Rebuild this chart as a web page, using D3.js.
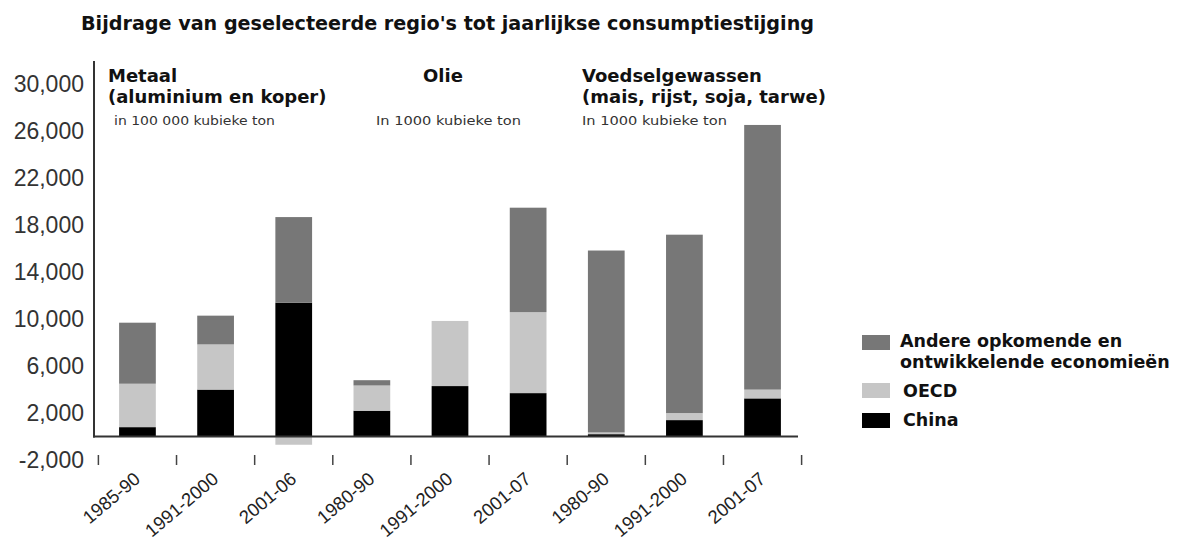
<!DOCTYPE html>
<html>
<head>
<meta charset="utf-8">
<script src="https://cdn.jsdelivr.net/npm/d3@7"></script>
<style>
  body { margin: 0; background: #fff; }
  svg { display: block; }
</style>
</head>
<body>
<div id="chart"></div>
<script>
// categories (labels repeat per panel, so bars are keyed by index)
const labels = ["1985-90", "1991-2000", "2001-06", "1980-90", "1991-2000", "2001-07", "1980-90", "1991-2000", "2001-07"];

// series values
const china = [800, 4000, 11400, 2200, 4300, 3700, 200, 1400, 3250];
const oecd  = [3700, 3850, -700, 2150, 5550, 6900, 150, 600, 750];
const other = [5200, 2450, 7300, 450, 0, 8900, 15500, 15200, 22550];

const yTicks = [-2000, 2000, 6000, 10000, 14000, 18000, 22000, 26000, 30000];

const seriesKeys = ["China", "OECD", "Andere"];
const legendLabels = [["Andere opkomende en", "ontwikkelende economieën"], ["OECD"], ["China"]];
const colors = { "China": "#000000", "OECD": "#c6c6c6", "Andere": "#777777" };

const panels = [
  { title: ["Metaal", "(aluminium en koper)"], unit: "in 100 000 kubieke ton" },
  { title: ["Olie"], unit: "In 1000 kubieke ton" },
  { title: ["Voedselgewassen", "(mais, rijst, soja, tarwe)"], unit: "In 1000 kubieke ton" }
];

const width = 1189, height = 544;

const table = labels.map((l, i) => ({ idx: i, China: china[i], OECD: oecd[i], Andere: other[i] }));

const svg = d3.select("#chart").append("svg")
  .attr("width", width)
  .attr("height", height);

const x = d3.scaleBand()
  .domain(table.map(d => d.idx))
  .range([98, 802])
  .paddingInner(0.53)
  .paddingOuter(0.27);

const y = d3.scaleLinear()
  .domain([-2000, 32000])
  .range([460, 61]);

// title
svg.append("text")
  .attr("x", 81).attr("y", 30)
  .attr("textLength", 733)
  .attr("lengthAdjust", "spacingAndGlyphs")
  .style("font-family", "DejaVu Sans")
  .style("font-weight", "bold")
  .style("font-size", "20px")
  .style("fill", "#111")
  .text("Bijdrage van geselecteerde regio's tot jaarlijkse consumptiestijging");

// stacked bars
const stack = d3.stack().keys(seriesKeys).offset(d3.stackOffsetDiverging);
const layers = stack(table);

svg.append("g").selectAll("g")
  .data(layers)
  .join("g")
  .attr("fill", d => colors[d.key])
  .selectAll("rect")
  .data(d => d)
  .join("rect")
  .attr("x", d => x(d.data.idx))
  .attr("y", d => y(Math.max(d[0], d[1])))
  .attr("width", x.bandwidth())
  .attr("height", d => Math.abs(y(d[0]) - y(d[1])));

// y axis
const fmt = d3.format(",");
const yAxis = svg.append("g")
  .attr("transform", "translate(94,0)")
  .call(d3.axisLeft(y).tickValues(yTicks).tickSize(0).tickPadding(10)
    .tickFormat(d => fmt(d).replace("\u2212", "-")));
yAxis.select(".domain").remove();
yAxis.selectAll("text")
  .style("font-family", "Liberation Sans")
  .style("font-size", "23px")
  .style("fill", "#333");

svg.append("line")
  .attr("x1", 94).attr("x2", 94)
  .attr("y1", y(32000)).attr("y2", y(0) + 1)
  .attr("stroke", "#333").attr("stroke-width", 2);

// zero baseline
svg.append("line")
  .attr("x1", 93).attr("x2", 798)
  .attr("y1", y(0)).attr("y2", y(0))
  .attr("stroke", "#333").attr("stroke-width", 2);

// x axis labels
const xAxis = svg.append("g")
  .attr("transform", `translate(0,${y(-2000)})`)
  .call(d3.axisBottom(x).tickSize(0).tickFormat(i => labels[i]));
xAxis.select(".domain").remove();
xAxis.selectAll("text")
  .attr("x", 0).attr("y", 0).attr("dy", 0)
  .attr("text-anchor", "end")
  .attr("transform", "translate(4,21) rotate(-40)")
  .style("font-family", "Liberation Sans")
  .style("font-size", "18.5px")
  .style("fill", "#222");

// separator ticks between categories
const gap = x.step() - x.bandwidth();
const bounds = table.map(d => x(d.idx) - gap / 2).concat([x(table[table.length - 1].idx) + x.bandwidth() + gap / 2]);
svg.append("g").selectAll("line")
  .data(bounds)
  .join("line")
  .attr("x1", d => d).attr("x2", d => d)
  .attr("y1", y(-2000) - 5).attr("y2", y(-2000) + 5)
  .attr("stroke", "#444").attr("stroke-width", 1.5);

// panel headings
const panelPos = [
  { x: 108, anchor: "start", ux: 114, ulen: 161 },
  { x: 443, anchor: "middle", ux: 376, ulen: 145 },
  { x: 582, anchor: "start", ux: 582, ulen: 145 }
];
panels.forEach((p, i) => {
  const pos = panelPos[i];
  p.title.forEach((line, j) => {
    svg.append("text")
      .attr("x", pos.x).attr("y", 82 + j * 21)
      .attr("text-anchor", pos.anchor)
      .style("font-family", "DejaVu Sans")
      .style("font-weight", "bold")
      .style("font-size", "18px")
      .style("fill", "#111")
      .text(line);
  });
  svg.append("text")
    .attr("x", pos.ux).attr("y", 125)
    .attr("textLength", pos.ulen)
    .attr("lengthAdjust", "spacingAndGlyphs")
    .style("font-family", "DejaVu Sans")
    .style("font-size", "12.5px")
    .style("fill", "#333")
    .text(p.unit);
});

// legend
const legendItems = [
  { key: "Andere", lines: legendLabels[0], sy: 335, ty: 347 },
  { key: "OECD", lines: legendLabels[1], sy: 383, ty: 397 },
  { key: "China", lines: legendLabels[2], sy: 413, ty: 426 }
];
const legend = svg.append("g");
legendItems.forEach(it => {
  legend.append("rect")
    .attr("x", 862).attr("y", it.sy)
    .attr("width", 28).attr("height", 15)
    .attr("fill", colors[it.key]);
  it.lines.forEach((line, j) => {
    legend.append("text")
      .attr("x", it.key === "Andere" ? 900 : 903)
      .attr("y", it.ty + j * 21)
      .style("font-family", "DejaVu Sans")
      .style("font-weight", "bold")
      .style("font-size", "17.5px")
      .style("fill", "#111")
      .text(line);
  });
});
</script>
</body>
</html>
